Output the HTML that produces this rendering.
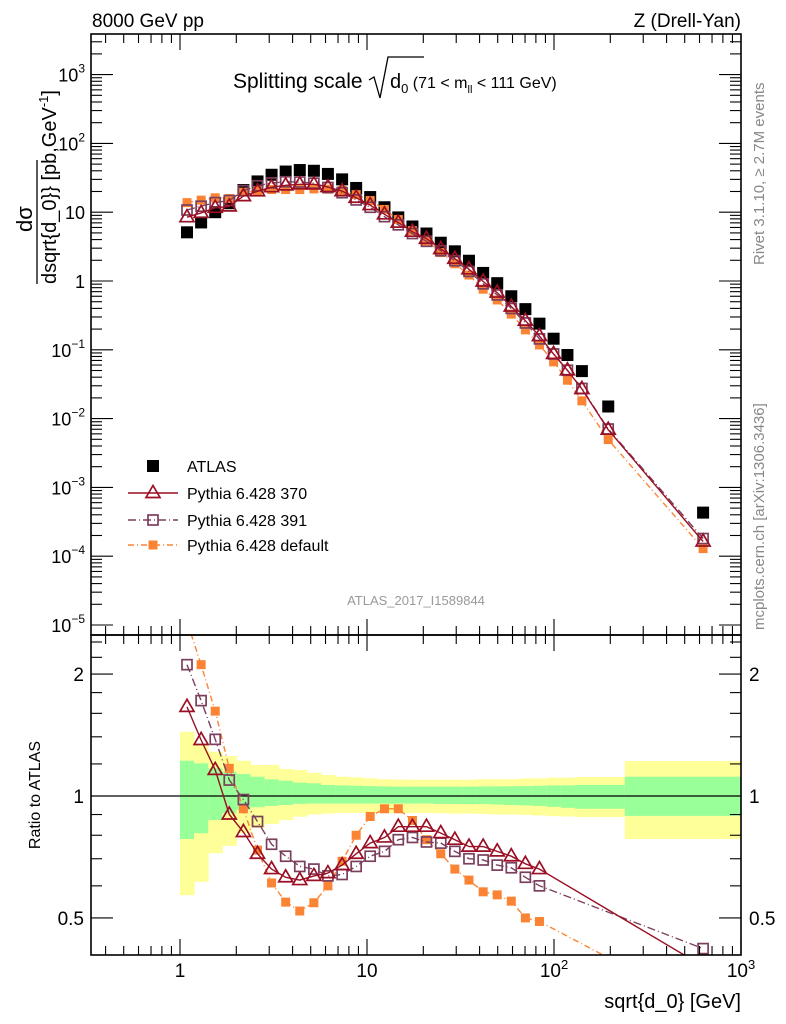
<!DOCTYPE html>
<html><head><meta charset="utf-8"><style>
body{margin:0;background:#fff}
svg{display:block;font-family:"Liberation Sans",sans-serif}
</style></head><body>
<svg id="c" width="786" height="1024" viewBox="0 0 786 1024">
<defs>
<clipPath id="clipTop"><rect x="91" y="34" width="650" height="601"/></clipPath>
<clipPath id="clipBot"><rect x="91" y="635" width="650" height="320"/></clipPath>
</defs>
<text x="92" y="27" font-size="19">8000 GeV pp</text>
<text x="741" y="27" font-size="19" text-anchor="end">Z (Drell-Yan)</text>
<g>
<text x="233" y="88" font-size="21">Splitting scale</text>
<path d="M369,80 L374,77 L380,98 L388,57 L424,57" fill="none" stroke="#000" stroke-width="1.3"/>
<text x="390" y="88" font-size="20">d<tspan font-size="13" dy="5">0</tspan><tspan font-size="16" dy="-5"> (71 &lt; m</tspan><tspan font-size="11" dy="5">ll</tspan><tspan font-size="16" dy="-5"> &lt; 111 GeV)</tspan></text>
</g>
<g>
<text transform="translate(32,232) rotate(-90)" font-size="22">dσ</text>
<line x1="37" y1="284" x2="37" y2="160" stroke="#000" stroke-width="1.3"/>
<text transform="translate(56,284) rotate(-90)" font-size="20">dsqrt{d_0}<tspan>} [pb,GeV</tspan><tspan font-size="13" dy="-8">-1</tspan><tspan dy="8">]</tspan></text>
</g>
<text transform="translate(764,265) rotate(-90)" font-size="15" fill="#888">Rivet 3.1.10, ≥ 2.7M events</text>
<text transform="translate(764,630) rotate(-90)" font-size="15" fill="#888">mcplots.cern.ch [arXiv:1306.3436]</text>
<text x="416" y="605" font-size="13" fill="#999" text-anchor="middle">ATLAS_2017_I1589844</text>
<text transform="translate(40,795) rotate(-90)" font-size="16" text-anchor="middle">Ratio to ATLAS</text>
<text x="741" y="1008" font-size="20" text-anchor="end">sqrt{d_0} [GeV]</text>
<g id="bands" clip-path="url(#clipBot)"></g>
<g id="marks"></g>
<g id="axes"></g>
<g id="legend"></g>
</svg>
<script>
const xVals=[1.09,1.297,1.543,1.834,2.183,2.597,3.088,3.674,4.37,5.2,6.18,7.36,8.75,10.4,12.4,14.7,17.5,20.8,24.8,29.5,35.1,41.8,49.7,59.1,70.3,83.6,99.5,118,141,195,627];
const binEdges=[1,1.19,1.415,1.684,2.003,2.383,2.835,3.373,4.013,4.775,5.68,6.76,8.04,9.57,11.38,13.54,16.1,19.2,22.8,27.1,32.3,38.4,45.7,54.3,64.6,76.9,91.5,108.8,129.5,154,239,1000];
const atlas=[5.1,7.1,10,13.5,21,28,35,39,41,40,36,30,22.5,16.6,11.8,8.4,6.2,4.9,3.6,2.7,1.97,1.31,0.93,0.60,0.39,0.24,0.145,0.084,0.049,0.015,4.3e-4];
const ratio370=[1.66,1.375,1.16,0.90,0.815,0.72,0.66,0.63,0.62,0.635,0.645,0.675,0.72,0.765,0.79,0.84,0.84,0.84,0.81,0.78,0.75,0.75,0.73,0.71,0.68,0.66,0.6,0.6,0.55,0.46,0.38];
const ratio391=[2.11,1.72,1.38,1.095,0.98,0.865,0.76,0.71,0.67,0.66,0.635,0.64,0.67,0.71,0.73,0.78,0.79,0.77,0.765,0.73,0.70,0.695,0.675,0.665,0.63,0.60,0.6,0.6,0.56,0.47,0.42];
const ratioDef=[2.7,2.11,1.62,1.17,0.93,0.735,0.61,0.547,0.52,0.545,0.60,0.69,0.80,0.89,0.93,0.93,0.87,0.78,0.72,0.66,0.62,0.58,0.57,0.55,0.50,0.49,0.46,0.43,0.37,0.33,0.30];
const ratioPanelSkip=[26,27,28,29];
const yelUp=[1.441,1.336,1.286,1.255,1.222,1.193,1.193,1.166,1.159,1.140,1.127,1.116,1.112,1.106,1.10,1.098,1.097,1.097,1.097,1.097,1.097,1.10,1.10,1.10,1.105,1.105,1.11,1.11,1.114,1.114,1.22];
const grnUp=[1.222,1.204,1.171,1.148,1.133,1.116,1.099,1.091,1.079,1.075,1.065,1.062,1.06,1.058,1.056,1.055,1.055,1.055,1.055,1.055,1.055,1.056,1.056,1.057,1.058,1.06,1.062,1.062,1.065,1.065,1.116];
const grnDn=[0.783,0.809,0.872,0.906,0.924,0.938,0.945,0.950,0.956,0.958,0.958,0.958,0.958,0.958,0.958,0.958,0.958,0.958,0.956,0.956,0.955,0.955,0.953,0.95,0.948,0.945,0.94,0.935,0.93,0.93,0.893];
const yelDn=[0.569,0.614,0.722,0.753,0.810,0.834,0.853,0.872,0.889,0.90,0.905,0.908,0.908,0.908,0.908,0.908,0.908,0.908,0.906,0.905,0.905,0.903,0.90,0.90,0.898,0.895,0.892,0.89,0.887,0.887,0.783];

const NS='http://www.w3.org/2000/svg';
const X0=91,X1=741,TY0=34,TY1=635,BY1=955;
const sx=v=>180+187*Math.log10(v);
const syT=v=>281-68.8*Math.log10(v);
const syB=v=>796-405*Math.log10(v);
const C370='#9a0f24',C391='#7b3f5e',CDEF='#fb8434';
function el(tag,attrs,parent){const e=document.createElementNS(NS,tag);for(const k in attrs)e.setAttribute(k,attrs[k]);parent.appendChild(e);return e;}
const bands=document.getElementById('bands'),marks=document.getElementById('marks'),axes=document.getElementById('axes'),legend=document.getElementById('legend');

for(let i=0;i<atlas.length;i++){
  const xa=sx(binEdges[i]),xb=sx(binEdges[i+1]);
  let r=el('rect',{x:xa,y:syB(yelUp[i]),width:xb-xa+0.5,height:syB(yelDn[i])-syB(yelUp[i]),fill:'#ffff99'},bands);
  
  
  let g=el('rect',{x:xa,y:syB(grnUp[i]),width:xb-xa+0.5,height:syB(grnDn[i])-syB(grnUp[i]),fill:'#99ff99'},bands);
  
  
}
el('line',{x1:X0,x2:X1,y1:syB(1),y2:syB(1),stroke:'#000','stroke-width':1.3},bands);

function series(vals,xs,sy,clip,color,dash,kind,name){
  const g=el('g',{'clip-path':'url(#'+clip+')'},marks);
  
  
  if(kind!=='atlas'){
    const pts=xs.map((x,i)=>sx(x).toFixed(1)+','+sy(vals[i]).toFixed(1)).join(' ');
    const pl=el('polyline',{points:pts,fill:'none',stroke:color,'stroke-width':1.4},g);
    if(dash)pl.setAttribute('stroke-dasharray',dash);
  }
  xs.forEach((x,i)=>{drawMarker(g,kind,sx(x),sy(vals[i]),color,name+'-point');});
}
function drawMarker(g,kind,cx,cy,color,name){
  let m;
  if(kind==='atlas')m=el('rect',{x:cx-6,y:cy-6,width:12,height:12,fill:'#000'},g);
  else if(kind==='tri')m=el('polygon',{points:`${cx},${cy-7.5} ${cx-7},${cy+4.5} ${cx+7},${cy+4.5}`,fill:'none',stroke:color,'stroke-width':1.7},g);
  else if(kind==='sq')m=el('rect',{x:cx-5,y:cy-5,width:10,height:10,fill:'none',stroke:color,'stroke-width':1.7},g);
  else m=el('rect',{x:cx-4.5,y:cy-4.5,width:9,height:9,fill:color},g);
  
  
}
const mc370=atlas.map((a,i)=>a*ratio370[i]);
const mc391=atlas.map((a,i)=>a*ratio391[i]);
const mcDef=atlas.map((a,i)=>a*ratioDef[i]);
series(atlas,xVals,syT,'clipTop','#000',null,'atlas','atlas-data');
series(mcDef,xVals,syT,'clipTop',CDEF,'6,3,1,3','def','pythia-default-top');
series(mc391,xVals,syT,'clipTop',C391,'8,3,1,3','sq','pythia-391-top');
series(mc370,xVals,syT,'clipTop',C370,null,'tri','pythia-370-top');
const keep=(a)=>a.filter((v,i)=>!ratioPanelSkip.includes(i));
const rx=keep(xVals);
series(keep(ratioDef),rx,syB,'clipBot',CDEF,'6,3,1,3','def','pythia-default-ratio');
series(keep(ratio391),rx,syB,'clipBot',C391,'8,3,1,3','sq','pythia-391-ratio');
series(keep(ratio370),rx,syB,'clipBot',C370,null,'tri','pythia-370-ratio');

el('rect',{x:X0,y:TY0,width:X1-X0,height:TY1-TY0,fill:'none',stroke:'#000','stroke-width':1.6},axes);
el('rect',{x:X0,y:TY1,width:X1-X0,height:BY1-TY1,fill:'none',stroke:'#000','stroke-width':1.6},axes);
function tk(x1,y1,x2,y2){el('line',{x1,y1,x2,y2,stroke:'#000','stroke-width':1.1},axes);}
for(let d=-1;d<3;d++)for(let m=1;m<10;m++){
  const v=m*Math.pow(10,d);const x=sx(v);if(x<X0+1||x>X1)continue;
  const L=m===1?16:9;
  tk(x,TY0,x,TY0+L);tk(x,TY1,x,TY1-L);tk(x,TY1,x,TY1+L);tk(x,BY1,x,BY1-L);
}
tk(sx(1000),BY1,sx(1000),BY1-16);
const xLab=[['1',1],['10',10],['10','2',100],['10','3',1000]];
xLab.forEach(l=>{
  const v=l[l.length-1];const t=el('text',{x:sx(v),y:977,'font-size':19,'text-anchor':'middle'},axes);
  t.textContent=l[0];
  if(l.length===3){const s=el('tspan',{'font-size':13,dy:-8},t);s.textContent=l[1];}
  
  
});
for(let d=-5;d<4;d++)for(let m=1;m<10;m++){
  const y=syT(m*Math.pow(10,d));if(y<TY0||y>TY1)continue;
  const L=m===1?22:11;tk(X0,y,X0+L,y);tk(X1,y,X1-L,y);
}
const yExp=[3,2,1,0,-1,-2,-3,-4,-5];
yExp.forEach(e=>{
  const y=syT(Math.pow(10,e))+7;
  const t=el('text',{x:85,y:y,'font-size':18,'text-anchor':'end'},axes);
  if(e===0)t.textContent='1';else if(e===1)t.textContent='10';
  else{t.textContent='10';const s=el('tspan',{'font-size':12,dy:-9},t);s.textContent=String(e).replace('-','−');}
  
  
});
const rMinor=[0.5,0.6,0.7,0.8,0.9,1,1.2,1.4,1.6,1.8,2,2.2,2.4];
rMinor.forEach(v=>{const y=syB(v);const L=(v===0.5||v===1||v===2)?22:11;tk(X0,y,X0+L,y);tk(X1,y,X1-L,y);});
const rLabs=['0.5','1','2'];
rLabs.forEach(s=>{
  const y=syB(parseFloat(s))+7;
  const a=el('text',{x:84,y,'font-size':19,'text-anchor':'end'},axes);a.textContent=s;
  
  
  const b=el('text',{x:749,y,'font-size':19},axes);b.textContent=s;
  
  
});
const legNames=['ATLAS','Pythia 6.428 370','Pythia 6.428 391','Pythia 6.428 default'];
const legKinds=['atlas','tri','sq','def'];
const legColors=['#000',C370,C391,CDEF];
const legDash=[null,null,'8,3,1,3','6,3,1,3'];
const legY=[466,493,520,545];
legNames.forEach((n,i)=>{
  const g=el('g',{},legend);
  
  
  if(i>0){const l=el('line',{x1:128,x2:178,y1:legY[i],y2:legY[i],stroke:legColors[i],'stroke-width':1.4},g);if(legDash[i])l.setAttribute('stroke-dasharray',legDash[i]);}
  drawMarker(g,legKinds[i],153,legY[i],legColors[i],'legend-marker');
  const t=el('text',{x:187,y:legY[i]+6,'font-size':16},g);t.textContent=n;
});
</script>
</body></html>
